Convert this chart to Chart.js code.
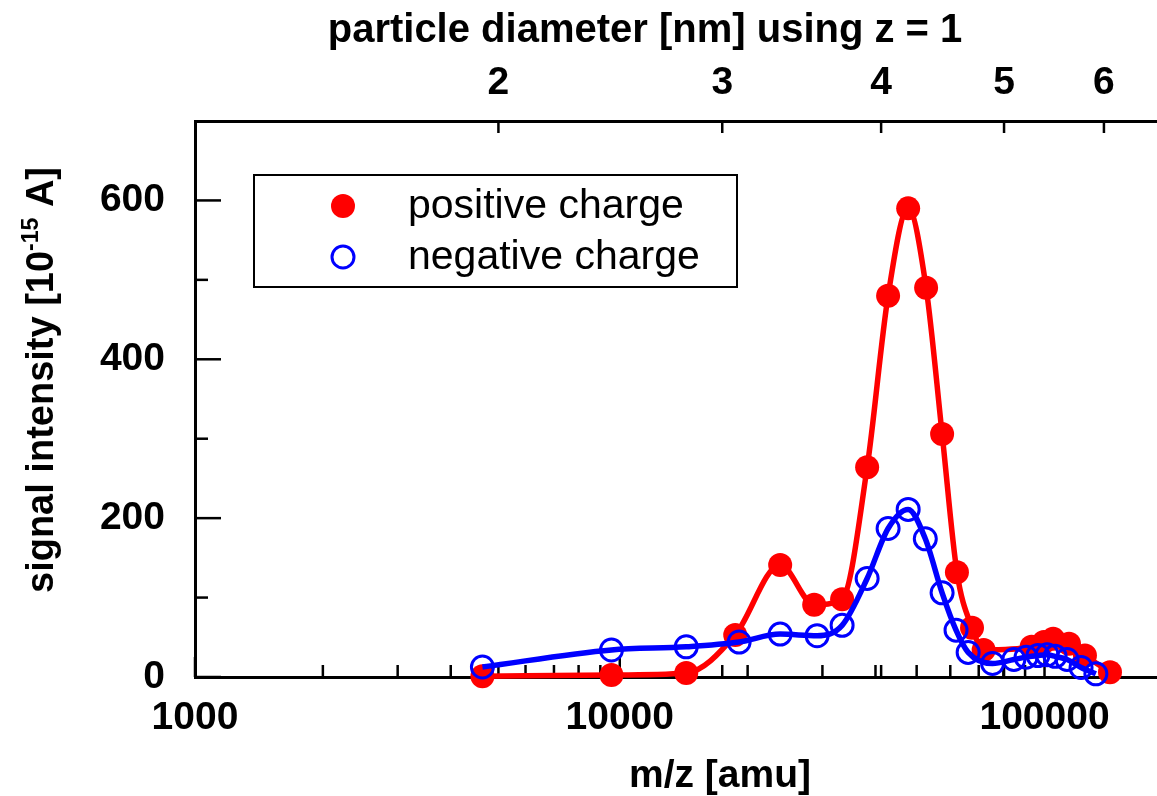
<!DOCTYPE html>
<html>
<head>
<meta charset="utf-8">
<script src="https://cdn.jsdelivr.net/npm/chart.js@4.4.1/dist/chart.umd.min.js"></script>
<style>
  html, body { margin: 0; padding: 0; background: #fff; }
  canvas { display: block; }
</style>
</head>
<body>
<canvas id="chart" width="1157" height="796"></canvas>
<script>
// values
const posMass = [4750, 9560, 14340, 18700, 23860, 28690, 33380, 38230, 42830, 47750, 52630, 57400, 62200, 67500, 71900, 93250, 99700, 104800, 114200, 124500, 142600];
const posSignal = [1, 2.5, 5, 53, 141, 91, 98, 264, 480, 590, 490, 306, 132, 62, 34, 38, 44, 48, 42, 27, 6];
const negMass = [4750, 9560, 14340, 19100, 23860, 29150, 33380, 38230, 42830, 47750, 52400, 57400, 61900, 66100, 75450, 84700, 90500, 96500, 101400, 105900, 113000, 121900, 132100];
const negSignal = [12.6, 34, 38, 44, 54, 52, 65, 124, 187, 211, 174, 106, 59, 31, 17, 22, 25, 27, 28, 26, 22, 12, 4];

const massTicks = [1000, 10000, 100000];
const diameterLabels = ["2", "3", "4", "5", "6"];
const diameterMass = [5180, 17430, 41240, 80300, 138000];
const signalTicks = [0, 200, 400, 600];
const signalMinor = [100, 300, 500];

const FONT = "'Liberation Sans', Arial, sans-serif";
const RED = "#ff0000";
const BLUE = "#0000ff";

const toPoints = (xs, ys) => xs.map((x, i) => ({ x: x, y: ys[i] }));

// minor log ticks 2..9 in each decade
const massMinor = [];
for (const d of [1000, 10000, 100000]) {
  for (let k = 2; k <= 9; k++) massMinor.push(d * k);
}

// tick marks point into the plot, so draw them by hand
const inwardTicks = {
  id: "inwardTicks",
  beforeDatasetsDraw(chart) {
    const { ctx, chartArea: a, scales } = chart;
    const seg = (x1, y1, x2, y2) => {
      ctx.beginPath();
      ctx.moveTo(x1, y1);
      ctx.lineTo(x2, y2);
      ctx.stroke();
    };
    ctx.save();
    ctx.strokeStyle = "#000";
    ctx.lineWidth = 2.5;
    for (const v of massMinor) {
      const px = scales.x.getPixelForValue(v);
      if (px > a.left && px < a.right) seg(px, a.bottom, px, a.bottom - 12);
    }
    for (const v of massTicks) {
      const px = scales.x.getPixelForValue(v);
      seg(px, a.bottom, px, a.bottom - 20);
    }
    for (const v of diameterMass) {
      const px = scales.x.getPixelForValue(v);
      seg(px, a.bottom, px, a.bottom - 12);
      seg(px, a.top, px, a.top + 12);
    }
    for (const v of signalTicks) {
      const py = scales.y.getPixelForValue(v);
      seg(a.left, py, a.left + 26, py);
    }
    for (const v of signalMinor) {
      const py = scales.y.getPixelForValue(v);
      seg(a.left, py, a.left + 13, py);
    }
    ctx.restore();
  }
};

// axis titles and legend box
const decorations = {
  id: "decorations",
  afterDraw(chart) {
    const { ctx } = chart;
    ctx.save();
    ctx.fillStyle = "#000";
    ctx.textBaseline = "alphabetic";

    // top title
    ctx.font = "bold 40px " + FONT;
    ctx.textAlign = "center";
    ctx.fillText("particle diameter [nm] using z = 1", 645, 42);

    // bottom title
    ctx.font = "bold 39px " + FONT;
    ctx.fillText("m/z [amu]", 720, 787);

    // left title with superscript
    ctx.save();
    ctx.translate(53, 380);
    ctx.rotate(-Math.PI / 2);
    ctx.textAlign = "left";
    const big = "bold 38px " + FONT;
    const small = "bold 23px " + FONT;
    const p1 = "signal intensity [10", p2 = "-15", p3 = " A]";
    ctx.font = big;
    const w1 = ctx.measureText(p1).width, w3 = ctx.measureText(p3).width;
    ctx.font = small;
    const w2 = ctx.measureText(p2).width;
    let x0 = -(w1 + w2 + w3) / 2;
    ctx.font = big;
    ctx.fillText(p1, x0, 0);
    ctx.font = small;
    ctx.fillText(p2, x0 + w1, -15);
    ctx.font = big;
    ctx.fillText(p3, x0 + w1 + w2, 0);
    ctx.restore();

    // legend
    ctx.strokeStyle = "#000";
    ctx.lineWidth = 2;
    ctx.strokeRect(254, 175, 483, 112);
    ctx.fillStyle = RED;
    ctx.beginPath();
    ctx.arc(343, 206, 12, 0, Math.PI * 2);
    ctx.fill();
    ctx.strokeStyle = BLUE;
    ctx.lineWidth = 3;
    ctx.beginPath();
    ctx.arc(343, 257, 11, 0, Math.PI * 2);
    ctx.stroke();
    ctx.fillStyle = "#000";
    ctx.font = "41px " + FONT;
    ctx.textAlign = "left";
    ctx.textBaseline = "middle";
    ctx.fillText("positive charge", 408, 207);
    ctx.fillText("negative charge", 408, 258);
    ctx.restore();
  }
};

const tickFont = { family: FONT, size: 39, weight: "bold" };

new Chart(document.getElementById("chart"), {
  type: "scatter",
  data: {
    datasets: [
      {
        label: "negative fit",
        data: toPoints(negMass, negSignal),
        showLine: true,
        cubicInterpolationMode: "monotone",
        borderColor: BLUE,
        borderWidth: 5.5,
        pointRadius: 0,
        clip: false,
        order: 1
      },
      {
        label: "negative charge",
        data: toPoints(negMass, negSignal),
        pointRadius: 11,
        pointBorderWidth: 3,
        pointBorderColor: BLUE,
        pointBackgroundColor: "rgba(0,0,0,0)",
        clip: false,
        order: 2
      },
      {
        label: "positive fit",
        data: toPoints(posMass, posSignal),
        showLine: true,
        cubicInterpolationMode: "monotone",
        borderColor: RED,
        borderWidth: 5.5,
        pointRadius: 0,
        clip: false,
        order: 3
      },
      {
        label: "positive charge",
        data: toPoints(posMass, posSignal),
        pointRadius: 12,
        pointBorderWidth: 0,
        pointBackgroundColor: RED,
        clip: false,
        order: 4
      }
    ]
  },
  options: {
    responsive: false,
    animation: false,
    devicePixelRatio: 1,
    layout: { padding: 0, autoPadding: false },
    plugins: { legend: { display: false }, tooltip: { enabled: false } },
    scales: {
      x: {
        type: "logarithmic",
        position: "bottom",
        min: 1000,
        max: 184000,
        afterBuildTicks: (s) => { s.ticks = massTicks.map((v) => ({ value: v })); },
        ticks: {
          font: tickFont,
          color: "#000",
          padding: 18,
          maxRotation: 0,
          autoSkip: false,
          callback: (v) => String(v)
        },
        grid: { display: false, drawTicks: false },
        border: { display: true, color: "#000", width: 3 },
        afterFit: (s) => { s.height = 119; s.paddingLeft = 0; s.paddingRight = 0; }
      },
      x2: {
        type: "logarithmic",
        position: "top",
        min: 1000,
        max: 184000,
        afterBuildTicks: (s) => { s.ticks = diameterMass.map((v) => ({ value: v })); },
        ticks: {
          font: tickFont,
          color: "#000",
          padding: 14,
          maxRotation: 0,
          autoSkip: false,
          callback: (v, i) => diameterLabels[i]
        },
        grid: { display: false, drawTicks: false },
        border: { display: true, color: "#000", width: 3 },
        afterFit: (s) => { s.height = 121; s.paddingLeft = 0; s.paddingRight = 0; }
      },
      y: {
        min: 0,
        max: 700,
        afterBuildTicks: (s) => { s.ticks = signalTicks.map((v) => ({ value: v })); },
        ticks: { font: tickFont, color: "#000", padding: 30 },
        grid: { display: false, drawTicks: false },
        border: { display: true, color: "#000", width: 3 },
        afterFit: (s) => { s.width = 195; s.paddingTop = 0; s.paddingBottom = 0; }
      }
    }
  },
  plugins: [inwardTicks, decorations]
});
</script>
</body>
</html>
